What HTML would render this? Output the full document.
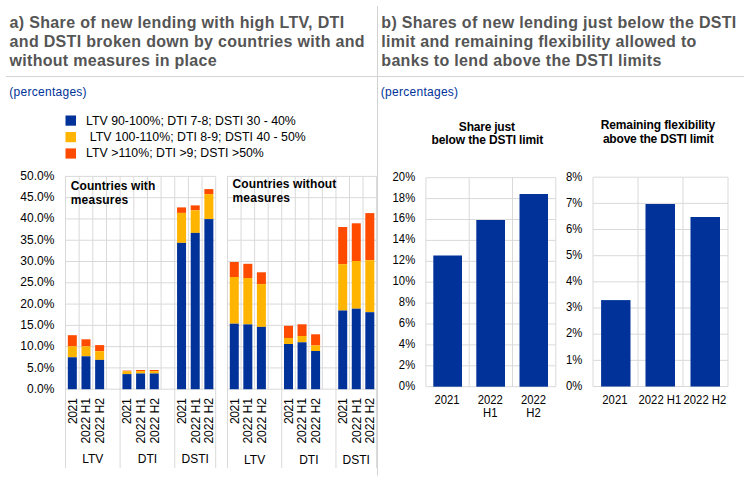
<!DOCTYPE html>
<html lang="en"><head><meta charset="utf-8"><title>Chart</title>
<style>
html,body{margin:0;padding:0;background:#fff}
body{width:744px;height:481px;overflow:hidden}
svg{display:block}
text{font-family:"Liberation Sans",sans-serif}
.t{font-size:16px;font-weight:bold;fill:#555}
.p{font-size:12px;fill:#003299}
.l{font-size:12.3px;fill:#000}
.ax{font-size:12px;fill:#000}
.ar{font-size:12.2px;fill:#000}
.bx{font-size:12.3px;fill:#000}
.b{font-size:12px;font-weight:bold;fill:#000}
.g{stroke:#d9d9d9;stroke-width:1;fill:none}
</style></head><body>
<svg width="744" height="481" viewBox="0 0 744 481">
<rect width="744" height="481" fill="#fff"/>
<line x1="6" y1="76.5" x2="744" y2="76.5" stroke="#d4d4d4" stroke-width="1"/>
<line x1="377.5" y1="6" x2="377.5" y2="475.5" stroke="#d2d2d2" stroke-width="1"/>
<text class="t" x="9.6" y="28.3" textLength="334.5" lengthAdjust="spacing">a) Share of new lending with high LTV, DTI</text>
<text class="t" x="9.6" y="47.3" textLength="355" lengthAdjust="spacing">and DSTI broken down by countries with and</text>
<text class="t" x="9.6" y="66.3" textLength="207" lengthAdjust="spacing">without measures in place</text>
<text class="t" x="381.3" y="28.2" textLength="355" lengthAdjust="spacing">b) Shares of new lending just below the DSTI</text>
<text class="t" x="381.3" y="47.2" textLength="315" lengthAdjust="spacing">limit and remaining flexibility allowed to</text>
<text class="t" x="381.3" y="66.2" textLength="280" lengthAdjust="spacing">banks to lend above the DSTI limits</text>
<text class="p" x="9.3" y="96.4" textLength="77.3" lengthAdjust="spacing">(percentages)</text>
<text class="p" x="380.8" y="96.4" textLength="77.3" lengthAdjust="spacing">(percentages)</text>
<rect x="65.5" y="115.5" width="10.5" height="10.2" fill="#003299"/>
<rect x="65.5" y="132" width="10.5" height="10.2" fill="#FFB400"/>
<rect x="65.5" y="148.4" width="10.5" height="10.2" fill="#FF4B00"/>
<text class="l" x="86.1" y="124.5" textLength="209.7" lengthAdjust="spacing">LTV 90-100%; DTI 7-8; DSTI 30 - 40%</text>
<text class="l" x="89.8" y="140.9" textLength="215.9" lengthAdjust="spacing">LTV 100-110%; DTI 8-9; DSTI 40 - 50%</text>
<text class="l" x="86.1" y="157.4" textLength="177.7" lengthAdjust="spacing">LTV &gt;110%; DTI &gt;9; DSTI &gt;50%</text>
<line class="g" x1="65.50" y1="176.4" x2="65.50" y2="389.2"/>
<line class="g" x1="79.15" y1="176.4" x2="79.15" y2="389.2"/>
<line class="g" x1="92.81" y1="176.4" x2="92.81" y2="389.2"/>
<line class="g" x1="106.46" y1="176.4" x2="106.46" y2="389.2"/>
<line class="g" x1="120.12" y1="176.4" x2="120.12" y2="389.2"/>
<line class="g" x1="133.77" y1="176.4" x2="133.77" y2="389.2"/>
<line class="g" x1="147.43" y1="176.4" x2="147.43" y2="389.2"/>
<line class="g" x1="161.08" y1="176.4" x2="161.08" y2="389.2"/>
<line class="g" x1="174.74" y1="176.4" x2="174.74" y2="389.2"/>
<line class="g" x1="188.39" y1="176.4" x2="188.39" y2="389.2"/>
<line class="g" x1="202.05" y1="176.4" x2="202.05" y2="389.2"/>
<line class="g" x1="215.70" y1="176.4" x2="215.70" y2="389.2"/>
<line class="g" x1="65.5" y1="176.40" x2="215.7" y2="176.40"/>
<line class="g" x1="65.5" y1="197.68" x2="215.7" y2="197.68"/>
<line class="g" x1="65.5" y1="218.96" x2="215.7" y2="218.96"/>
<line class="g" x1="65.5" y1="240.24" x2="215.7" y2="240.24"/>
<line class="g" x1="65.5" y1="261.52" x2="215.7" y2="261.52"/>
<line class="g" x1="65.5" y1="282.80" x2="215.7" y2="282.80"/>
<line class="g" x1="65.5" y1="304.08" x2="215.7" y2="304.08"/>
<line class="g" x1="65.5" y1="325.36" x2="215.7" y2="325.36"/>
<line class="g" x1="65.5" y1="346.64" x2="215.7" y2="346.64"/>
<line class="g" x1="65.5" y1="367.92" x2="215.7" y2="367.92"/>
<line class="g" x1="65.5" y1="389.20" x2="215.7" y2="389.20"/>
<line class="g" x1="65.50" y1="389.2" x2="65.50" y2="468"/>
<line class="g" x1="120.12" y1="389.2" x2="120.12" y2="468"/>
<line class="g" x1="174.74" y1="389.2" x2="174.74" y2="468"/>
<line class="g" x1="215.70" y1="389.2" x2="215.70" y2="468"/>
<rect x="67.83" y="335.2" width="9" height="11.20" fill="#FF4B00"/>
<rect x="67.83" y="346.4" width="9" height="10.90" fill="#FFB400"/>
<rect x="67.83" y="357.3" width="9" height="31.90" fill="#003299"/>
<rect x="81.48" y="339.3" width="9" height="7.10" fill="#FF4B00"/>
<rect x="81.48" y="346.4" width="9" height="9.90" fill="#FFB400"/>
<rect x="81.48" y="356.3" width="9" height="32.90" fill="#003299"/>
<rect x="95.14" y="345.1" width="9" height="6.10" fill="#FF4B00"/>
<rect x="95.14" y="351.2" width="9" height="8.70" fill="#FFB400"/>
<rect x="95.14" y="359.9" width="9" height="29.30" fill="#003299"/>
<rect x="122.45" y="370.6" width="9" height="0.60" fill="#FF4B00"/>
<rect x="122.45" y="371.2" width="9" height="2.90" fill="#FFB400"/>
<rect x="122.45" y="374.1" width="9" height="15.10" fill="#003299"/>
<rect x="136.10" y="370.0" width="9" height="1.10" fill="#FF4B00"/>
<rect x="136.10" y="371.1" width="9" height="2.40" fill="#FFB400"/>
<rect x="136.10" y="373.5" width="9" height="15.70" fill="#003299"/>
<rect x="149.75" y="370.0" width="9" height="1.10" fill="#FF4B00"/>
<rect x="149.75" y="371.1" width="9" height="2.40" fill="#FFB400"/>
<rect x="149.75" y="373.5" width="9" height="15.70" fill="#003299"/>
<rect x="177.06" y="207.4" width="9" height="5.50" fill="#FF4B00"/>
<rect x="177.06" y="212.9" width="9" height="30.00" fill="#FFB400"/>
<rect x="177.06" y="242.9" width="9" height="146.30" fill="#003299"/>
<rect x="190.72" y="205.4" width="9" height="4.90" fill="#FF4B00"/>
<rect x="190.72" y="210.3" width="9" height="22.60" fill="#FFB400"/>
<rect x="190.72" y="232.9" width="9" height="156.30" fill="#003299"/>
<rect x="204.37" y="189.1" width="9" height="5.00" fill="#FF4B00"/>
<rect x="204.37" y="194.1" width="9" height="25.00" fill="#FFB400"/>
<rect x="204.37" y="219.1" width="9" height="170.10" fill="#003299"/>
<text class="ar" text-anchor="end" textLength="25.8" lengthAdjust="spacing" transform="translate(76.73,398.3) rotate(-90)">2021</text>
<text class="ar" text-anchor="end" textLength="45.7" lengthAdjust="spacing" transform="translate(90.38,397.9) rotate(-90)">2022 H1</text>
<text class="ar" text-anchor="end" textLength="45.7" lengthAdjust="spacing" transform="translate(104.04,397.9) rotate(-90)">2022 H2</text>
<text class="ar" text-anchor="end" textLength="25.8" lengthAdjust="spacing" transform="translate(131.35,398.3) rotate(-90)">2021</text>
<text class="ar" text-anchor="end" textLength="45.7" lengthAdjust="spacing" transform="translate(145.00,397.9) rotate(-90)">2022 H1</text>
<text class="ar" text-anchor="end" textLength="45.7" lengthAdjust="spacing" transform="translate(158.65,397.9) rotate(-90)">2022 H2</text>
<text class="ar" text-anchor="end" textLength="25.8" lengthAdjust="spacing" transform="translate(185.96,398.3) rotate(-90)">2021</text>
<text class="ar" text-anchor="end" textLength="45.7" lengthAdjust="spacing" transform="translate(199.62,397.9) rotate(-90)">2022 H1</text>
<text class="ar" text-anchor="end" textLength="45.7" lengthAdjust="spacing" transform="translate(213.27,397.9) rotate(-90)">2022 H2</text>
<text class="ax" text-anchor="middle" x="92.81" y="462.7">LTV</text>
<text class="ax" text-anchor="middle" x="147.43" y="462.7">DTI</text>
<text class="ax" text-anchor="middle" x="195.22" y="462.7">DSTI</text>
<text class="b" x="70.75" y="190" textLength="84.5" lengthAdjust="spacing">Countries with</text>
<text class="b" x="70.75" y="203.75" textLength="57.5" lengthAdjust="spacing">measures</text>
<line class="g" x1="227.50" y1="176.4" x2="227.50" y2="389.2"/>
<line class="g" x1="241.05" y1="176.4" x2="241.05" y2="389.2"/>
<line class="g" x1="254.61" y1="176.4" x2="254.61" y2="389.2"/>
<line class="g" x1="268.16" y1="176.4" x2="268.16" y2="389.2"/>
<line class="g" x1="281.72" y1="176.4" x2="281.72" y2="389.2"/>
<line class="g" x1="295.27" y1="176.4" x2="295.27" y2="389.2"/>
<line class="g" x1="308.83" y1="176.4" x2="308.83" y2="389.2"/>
<line class="g" x1="322.38" y1="176.4" x2="322.38" y2="389.2"/>
<line class="g" x1="335.94" y1="176.4" x2="335.94" y2="389.2"/>
<line class="g" x1="349.49" y1="176.4" x2="349.49" y2="389.2"/>
<line class="g" x1="363.05" y1="176.4" x2="363.05" y2="389.2"/>
<line class="g" x1="376.60" y1="176.4" x2="376.60" y2="389.2"/>
<line class="g" x1="227.5" y1="176.40" x2="376.6" y2="176.40"/>
<line class="g" x1="227.5" y1="197.68" x2="376.6" y2="197.68"/>
<line class="g" x1="227.5" y1="218.96" x2="376.6" y2="218.96"/>
<line class="g" x1="227.5" y1="240.24" x2="376.6" y2="240.24"/>
<line class="g" x1="227.5" y1="261.52" x2="376.6" y2="261.52"/>
<line class="g" x1="227.5" y1="282.80" x2="376.6" y2="282.80"/>
<line class="g" x1="227.5" y1="304.08" x2="376.6" y2="304.08"/>
<line class="g" x1="227.5" y1="325.36" x2="376.6" y2="325.36"/>
<line class="g" x1="227.5" y1="346.64" x2="376.6" y2="346.64"/>
<line class="g" x1="227.5" y1="367.92" x2="376.6" y2="367.92"/>
<line class="g" x1="227.5" y1="389.20" x2="376.6" y2="389.20"/>
<line class="g" x1="227.50" y1="389.2" x2="227.50" y2="468"/>
<line class="g" x1="281.72" y1="389.2" x2="281.72" y2="468"/>
<line class="g" x1="335.94" y1="389.2" x2="335.94" y2="468"/>
<line class="g" x1="376.60" y1="389.2" x2="376.60" y2="468"/>
<rect x="229.78" y="262" width="9" height="15.00" fill="#FF4B00"/>
<rect x="229.78" y="277" width="9" height="46.70" fill="#FFB400"/>
<rect x="229.78" y="323.7" width="9" height="65.50" fill="#003299"/>
<rect x="243.33" y="263.8" width="9" height="14.20" fill="#FF4B00"/>
<rect x="243.33" y="278" width="9" height="46.40" fill="#FFB400"/>
<rect x="243.33" y="324.4" width="9" height="64.80" fill="#003299"/>
<rect x="256.89" y="272.3" width="9" height="11.80" fill="#FF4B00"/>
<rect x="256.89" y="284.1" width="9" height="42.80" fill="#FFB400"/>
<rect x="256.89" y="326.9" width="9" height="62.30" fill="#003299"/>
<rect x="284.00" y="325.8" width="9" height="12.20" fill="#FF4B00"/>
<rect x="284.00" y="338" width="9" height="6.00" fill="#FFB400"/>
<rect x="284.00" y="344" width="9" height="45.20" fill="#003299"/>
<rect x="297.55" y="324.3" width="9" height="11.70" fill="#FF4B00"/>
<rect x="297.55" y="336" width="9" height="6.30" fill="#FFB400"/>
<rect x="297.55" y="342.3" width="9" height="46.90" fill="#003299"/>
<rect x="311.10" y="334.3" width="9" height="11.20" fill="#FF4B00"/>
<rect x="311.10" y="345.5" width="9" height="5.50" fill="#FFB400"/>
<rect x="311.10" y="351" width="9" height="38.20" fill="#003299"/>
<rect x="338.21" y="227" width="9" height="37.20" fill="#FF4B00"/>
<rect x="338.21" y="264.2" width="9" height="46.30" fill="#FFB400"/>
<rect x="338.21" y="310.5" width="9" height="78.70" fill="#003299"/>
<rect x="351.77" y="223.3" width="9" height="37.70" fill="#FF4B00"/>
<rect x="351.77" y="261" width="9" height="47.70" fill="#FFB400"/>
<rect x="351.77" y="308.7" width="9" height="80.50" fill="#003299"/>
<rect x="365.32" y="213.1" width="9" height="47.10" fill="#FF4B00"/>
<rect x="365.32" y="260.2" width="9" height="52.00" fill="#FFB400"/>
<rect x="365.32" y="312.2" width="9" height="77.00" fill="#003299"/>
<text class="ar" text-anchor="end" textLength="25.8" lengthAdjust="spacing" transform="translate(238.68,398.3) rotate(-90)">2021</text>
<text class="ar" text-anchor="end" textLength="45.7" lengthAdjust="spacing" transform="translate(252.23,397.9) rotate(-90)">2022 H1</text>
<text class="ar" text-anchor="end" textLength="45.7" lengthAdjust="spacing" transform="translate(265.79,397.9) rotate(-90)">2022 H2</text>
<text class="ar" text-anchor="end" textLength="25.8" lengthAdjust="spacing" transform="translate(292.90,398.3) rotate(-90)">2021</text>
<text class="ar" text-anchor="end" textLength="45.7" lengthAdjust="spacing" transform="translate(306.45,397.9) rotate(-90)">2022 H1</text>
<text class="ar" text-anchor="end" textLength="45.7" lengthAdjust="spacing" transform="translate(320.00,397.9) rotate(-90)">2022 H2</text>
<text class="ar" text-anchor="end" textLength="25.8" lengthAdjust="spacing" transform="translate(347.11,398.3) rotate(-90)">2021</text>
<text class="ar" text-anchor="end" textLength="45.7" lengthAdjust="spacing" transform="translate(360.67,397.9) rotate(-90)">2022 H1</text>
<text class="ar" text-anchor="end" textLength="45.7" lengthAdjust="spacing" transform="translate(374.22,397.9) rotate(-90)">2022 H2</text>
<text class="ax" text-anchor="middle" x="254.61" y="463.6">LTV</text>
<text class="ax" text-anchor="middle" x="308.83" y="463.6">DTI</text>
<text class="ax" text-anchor="middle" x="356.27" y="463.6">DSTI</text>
<text class="b" x="232.5" y="188.3" textLength="103.8" lengthAdjust="spacing">Countries without</text>
<text class="b" x="232.5" y="202.05" textLength="57.5" lengthAdjust="spacing">measures</text>
<text class="ax" text-anchor="end" x="54.4" y="179.90">50.0%</text>
<text class="ax" text-anchor="end" x="54.4" y="201.19">45.0%</text>
<text class="ax" text-anchor="end" x="54.4" y="222.48">40.0%</text>
<text class="ax" text-anchor="end" x="54.4" y="243.77">35.0%</text>
<text class="ax" text-anchor="end" x="54.4" y="265.06">30.0%</text>
<text class="ax" text-anchor="end" x="54.4" y="286.35">25.0%</text>
<text class="ax" text-anchor="end" x="54.4" y="307.64">20.0%</text>
<text class="ax" text-anchor="end" x="54.4" y="328.93">15.0%</text>
<text class="ax" text-anchor="end" x="54.4" y="350.22">10.0%</text>
<text class="ax" text-anchor="end" x="54.4" y="371.51">5.0%</text>
<text class="ax" text-anchor="end" x="54.4" y="392.80">0.0%</text>
<line class="g" x1="425.90" y1="177.7" x2="425.90" y2="386.7"/>
<line class="g" x1="469.20" y1="177.7" x2="469.20" y2="386.7"/>
<line class="g" x1="512.50" y1="177.7" x2="512.50" y2="386.7"/>
<line class="g" x1="555.80" y1="177.7" x2="555.80" y2="386.7"/>
<line class="g" x1="425.9" y1="177.70" x2="555.8" y2="177.70"/>
<line class="g" x1="425.9" y1="198.60" x2="555.8" y2="198.60"/>
<line class="g" x1="425.9" y1="219.50" x2="555.8" y2="219.50"/>
<line class="g" x1="425.9" y1="240.40" x2="555.8" y2="240.40"/>
<line class="g" x1="425.9" y1="261.30" x2="555.8" y2="261.30"/>
<line class="g" x1="425.9" y1="282.20" x2="555.8" y2="282.20"/>
<line class="g" x1="425.9" y1="303.10" x2="555.8" y2="303.10"/>
<line class="g" x1="425.9" y1="324.00" x2="555.8" y2="324.00"/>
<line class="g" x1="425.9" y1="344.90" x2="555.8" y2="344.90"/>
<line class="g" x1="425.9" y1="365.80" x2="555.8" y2="365.80"/>
<line class="g" x1="425.9" y1="386.70" x2="555.8" y2="386.70"/>
<rect x="433.3" y="255.5" width="28.70" height="131.20" fill="#003299"/>
<rect x="476.3" y="220" width="28.70" height="166.70" fill="#003299"/>
<rect x="519.5" y="194" width="28.50" height="192.70" fill="#003299"/>
<text class="bx" text-anchor="end" transform="translate(415.2,180.60) scale(.919,1)">20%</text>
<text class="bx" text-anchor="end" transform="translate(415.2,201.51) scale(.919,1)">18%</text>
<text class="bx" text-anchor="end" transform="translate(415.2,222.42) scale(.919,1)">16%</text>
<text class="bx" text-anchor="end" transform="translate(415.2,243.33) scale(.919,1)">14%</text>
<text class="bx" text-anchor="end" transform="translate(415.2,264.24) scale(.919,1)">12%</text>
<text class="bx" text-anchor="end" transform="translate(415.2,285.15) scale(.919,1)">10%</text>
<text class="bx" text-anchor="end" transform="translate(415.2,306.06) scale(.919,1)">8%</text>
<text class="bx" text-anchor="end" transform="translate(415.2,326.97) scale(.919,1)">6%</text>
<text class="bx" text-anchor="end" transform="translate(415.2,347.88) scale(.919,1)">4%</text>
<text class="bx" text-anchor="end" transform="translate(415.2,368.79) scale(.919,1)">2%</text>
<text class="bx" text-anchor="end" transform="translate(415.2,389.70) scale(.919,1)">0%</text>
<text class="bx" text-anchor="middle" transform="translate(446.95,403.80) scale(.919,1)">2021</text>
<text class="bx" text-anchor="middle" transform="translate(490.25,403.80) scale(.919,1)">2022</text>
<text class="bx" text-anchor="middle" transform="translate(490.25,416.70) scale(.919,1)">H1</text>
<text class="bx" text-anchor="middle" transform="translate(533.55,403.80) scale(.919,1)">2022</text>
<text class="bx" text-anchor="middle" transform="translate(533.55,416.70) scale(.919,1)">H2</text>
<line class="g" x1="593.00" y1="177.2" x2="593.00" y2="386.5"/>
<line class="g" x1="638.00" y1="177.2" x2="638.00" y2="386.5"/>
<line class="g" x1="683.00" y1="177.2" x2="683.00" y2="386.5"/>
<line class="g" x1="728.00" y1="177.2" x2="728.00" y2="386.5"/>
<line class="g" x1="593" y1="177.20" x2="728" y2="177.20"/>
<line class="g" x1="593" y1="203.36" x2="728" y2="203.36"/>
<line class="g" x1="593" y1="229.52" x2="728" y2="229.52"/>
<line class="g" x1="593" y1="255.69" x2="728" y2="255.69"/>
<line class="g" x1="593" y1="281.85" x2="728" y2="281.85"/>
<line class="g" x1="593" y1="308.01" x2="728" y2="308.01"/>
<line class="g" x1="593" y1="334.18" x2="728" y2="334.18"/>
<line class="g" x1="593" y1="360.34" x2="728" y2="360.34"/>
<line class="g" x1="593" y1="386.50" x2="728" y2="386.50"/>
<rect x="601.1" y="300.1" width="29.40" height="86.40" fill="#003299"/>
<rect x="645.5" y="204" width="29.50" height="182.50" fill="#003299"/>
<rect x="690.5" y="217" width="29.50" height="169.50" fill="#003299"/>
<text class="bx" text-anchor="end" transform="translate(582.4,180.60) scale(.919,1)">8%</text>
<text class="bx" text-anchor="end" transform="translate(582.4,206.74) scale(.919,1)">7%</text>
<text class="bx" text-anchor="end" transform="translate(582.4,232.88) scale(.919,1)">6%</text>
<text class="bx" text-anchor="end" transform="translate(582.4,259.01) scale(.919,1)">5%</text>
<text class="bx" text-anchor="end" transform="translate(582.4,285.15) scale(.919,1)">4%</text>
<text class="bx" text-anchor="end" transform="translate(582.4,311.29) scale(.919,1)">3%</text>
<text class="bx" text-anchor="end" transform="translate(582.4,337.42) scale(.919,1)">2%</text>
<text class="bx" text-anchor="end" transform="translate(582.4,363.56) scale(.919,1)">1%</text>
<text class="bx" text-anchor="end" transform="translate(582.4,389.70) scale(.919,1)">0%</text>
<text class="bx" text-anchor="middle" transform="translate(614.90,404.20) scale(.919,1)">2021</text>
<text class="bx" text-anchor="middle" transform="translate(659.90,404.20) scale(.919,1)">2022 H1</text>
<text class="bx" text-anchor="middle" transform="translate(704.90,404.20) scale(.919,1)">2022 H2</text>
<text class="b" text-anchor="middle" x="486.9" y="130.8" textLength="56.1" lengthAdjust="spacing">Share just</text>
<text class="b" text-anchor="middle" x="487.4" y="144.1" textLength="111.6" lengthAdjust="spacing">below the DSTI limit</text>
<text class="b" text-anchor="middle" x="657.9" y="128.7" textLength="114.5" lengthAdjust="spacing">Remaining flexibility</text>
<text class="b" text-anchor="middle" x="658.3" y="142.6" textLength="110.8" lengthAdjust="spacing">above the DSTI limit</text>
</svg></body></html>
